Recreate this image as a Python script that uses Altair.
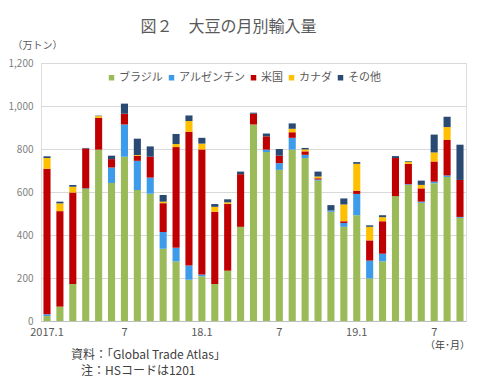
import altair as alt
import pandas as pd

months = [f"{2017 + i // 12}-{i % 12 + 1:02d}" for i in range(33)]
tick_labels = {"2017-01": "2017.1", "2017-07": "7", "2018-01": "18.1",
               "2018-07": "7", "2019-01": "19.1", "2019-07": "7"}

countries = ["ブラジル", "アルゼンチン", "米国", "カナダ", "その他"]
colors = ["#9BBB59", "#3D9BE9", "#C00000", "#FFC000", "#2B4A73"]

brazil = [23, 67, 172, 614, 797, 642, 764, 609, 592, 336, 277, 192, 208, 172, 234, 438,
          914, 786, 703, 797, 758, 653, 508, 438, 492, 198, 277, 581, 633, 550, 641, 670, 480]
argentina = [8, 0, 0, 3, 0, 72, 150, 136, 75, 78, 64, 66, 8, 0, 0, 0,
             0, 11, 31, 55, 15, 5, 6, 18, 99, 83, 36, 0, 3, 5, 7, 7, 4]
usa = [677, 444, 426, 185, 148, 39, 50, 24, 97, 134, 468, 622, 582, 336, 311, 245,
       50, 62, 35, 26, 16, 6, 0, 8, 15, 94, 151, 177, 95, 62, 94, 165, 172]
canada = [50, 36, 27, 0, 8, 0, 0, 3, 0, 7, 14, 50, 27, 23, 7, 0,
          0, 0, 0, 16, 9, 8, 0, 78, 125, 63, 19, 0, 10, 16, 42, 60, 0]
other = [8, 8, 8, 3, 2, 16, 47, 76, 48, 31, 47, 26, 27, 13, 14, 12,
         5, 13, 31, 25, 7, 23, 25, 28, 8, 7, 9, 9, 3, 20, 83, 48, 164]

series = [brazil, argentina, usa, canada, other]
rows = []
for ci, (name, vals) in enumerate(zip(countries, series)):
    for m, v in zip(months, vals):
        rows.append({"month": m, "country": name, "value": v, "order": ci})
df = pd.DataFrame(rows)

FONT = "Noto Sans CJK JP"
GRAY = "#595959"

label_expr = " : ".join(f"datum.value == '{k}' ? '{v}'" for k, v in tick_labels.items()) + " : ''"

bars = alt.Chart(df).mark_bar().encode(
    x=alt.X("month:N", sort=months,
            scale=alt.Scale(paddingInner=0.45, paddingOuter=0.19),
            axis=alt.Axis(title=None, labelExpr=label_expr, labelAngle=0, ticks=False,
                          labelPadding=5, labelFontSize=11, labelColor=GRAY,
                          domainColor="#BFBFBF", labelFont=FONT)),
    y=alt.Y("sum(value):Q", scale=alt.Scale(domain=[0, 1200]),
            axis=alt.Axis(values=[0, 200, 400, 600, 800, 1000, 1200], format=",.0f",
                          title="（万トン）", titleAngle=0, titleX=-29, titleY=-18,
                          titleAlign="left", titleBaseline="middle", titleFontSize=10,
                          titleFontWeight="normal", titleColor=GRAY, titleFont=FONT,
                          labelFontSize=10, labelColor="#7F7F7F", labelPadding=8,
                          ticks=False, domain=False, gridColor="#D9D9D9", labelFont=FONT)),
    color=alt.Color("country:N", sort=countries,
                    scale=alt.Scale(domain=countries, range=colors),
                    legend=alt.Legend(title=None, orient="none", direction="horizontal",
                                      legendX=65, legendY=9, symbolType="square",
                                      symbolSize=30, symbolStrokeWidth=0, labelOffset=2,
                                      labelFontSize=11, labelColor=GRAY,
                                      labelFont=FONT, columnPadding=3)),
    order=alt.Order("order:Q", sort="ascending"),
)


def note(text, x, y, size=12, align="left"):
    return alt.Chart(pd.DataFrame({"t": [text]})).mark_text(
        font=FONT, fontSize=size, color="#404040", align=align, baseline="middle"
    ).encode(x=alt.value(x), y=alt.value(y), text="t:N")


unit_note = note("（年･月）", 429, 283, size=10, align="right")
source_note = note("資料：「Global Trade Atlas」", 30, 292)
hs_note = note("注：HSコードは1201", 40, 308)

chart = alt.layer(bars, unit_note, source_note, hs_note).properties(
    width=425, height=258,
    autosize=alt.AutoSizeParams(type="none"),
    padding={"left": 33, "top": 55, "right": 6, "bottom": 58},
    title=alt.TitleParams("図２　大豆の月別輸入量", font=FONT, fontSize=16,
                          fontWeight="normal", color=GRAY, anchor="middle",
                          frame="group", dx=-25, offset=5),
).configure_view(stroke=None).configure(background="white")

chart.save("out.html", embed_options={"renderer": "svg", "actions": False})
